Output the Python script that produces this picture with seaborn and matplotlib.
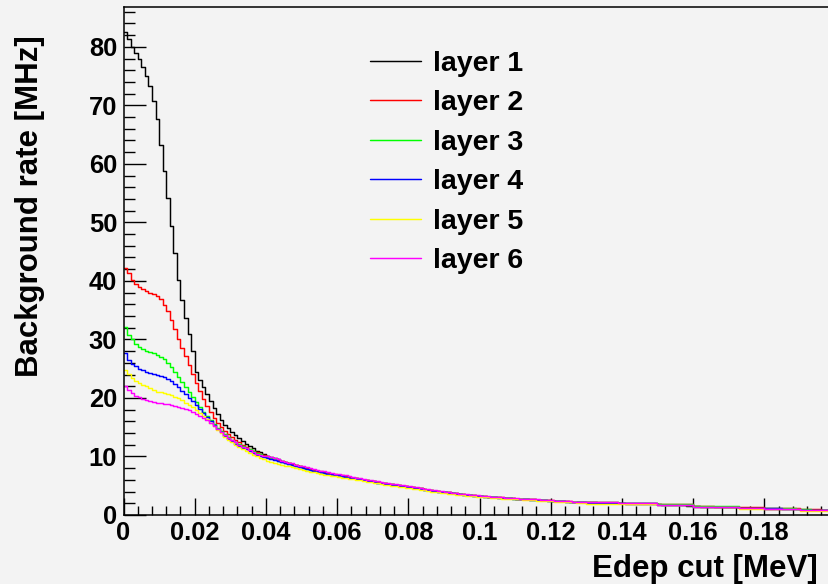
import numpy as np
import pandas as pd
import matplotlib
matplotlib.use("Agg")
import matplotlib.pyplot as plt
from matplotlib.ticker import MultipleLocator, FuncFormatter
import seaborn as sns

# 200 bins of 1 keV width from 0 to 0.2 MeV
bin_edges = [round(0.001 * i, 4) for i in range(201)]

layer_names = ["layer 1", "layer 2", "layer 3", "layer 4", "layer 5", "layer 6"]

# background rate [MHz] above each Edep cut, one value per bin
layer1 = [
    82.5, 81.3, 80.0, 79.0, 77.9, 76.6, 75.0, 73.3, 70.8, 67.6,
    63.2, 58.7, 54.1, 49.4, 44.8, 40.2, 36.8, 33.7, 31.0, 28.0,
    24.5, 23.1, 21.9, 20.6, 19.4, 18.3, 17.2, 16.3, 15.4, 14.8,
    14.2, 13.6, 13.1, 12.6, 12.2, 11.8, 11.4, 11.0, 10.7, 10.4,
    10.1, 9.9, 9.7, 9.5, 9.3, 9.1, 8.9, 8.7, 8.5, 8.3,
    8.15, 8.0, 7.85, 7.7, 7.55, 7.4, 7.3, 7.15, 7.0, 6.9,
    6.8, 6.7, 6.6, 6.5, 6.4, 6.3, 6.15, 6.05, 5.95, 5.85,
    5.75, 5.65, 5.55, 5.45, 5.35, 5.25, 5.15, 5.05, 4.95, 4.9,
    4.8, 4.75, 4.65, 4.55, 4.45, 4.35, 4.25, 4.15, 4.05, 4.0,
    3.9, 3.85, 3.75, 3.7, 3.6, 3.55, 3.5, 3.45, 3.35, 3.3,
    3.25, 3.2, 3.15, 3.1, 3.05, 3.0, 2.95, 2.9, 2.9, 2.85,
    2.8, 2.75, 2.75, 2.7, 2.65, 2.65, 2.6, 2.55, 2.55, 2.5,
    2.45, 2.45, 2.4, 2.4, 2.35, 2.3, 2.3, 2.25, 2.25, 2.2,
    2.15, 2.15, 2.15, 2.1, 2.1, 2.1, 2.05, 2.05, 2.05, 2.0,
    2.0, 1.95, 1.95, 1.95, 1.9, 1.9, 1.9, 1.85, 1.85, 1.85,
    1.8, 1.75, 1.75, 1.7, 1.7, 1.7, 1.65, 1.65, 1.6, 1.6,
    1.5, 1.5, 1.45, 1.45, 1.4, 1.4, 1.4, 1.35, 1.35, 1.35,
    1.3, 1.3, 1.3, 1.2, 1.2, 1.2, 1.2, 1.15, 1.15, 1.15,
    1.1, 1.1, 1.05, 1.05, 1.05, 1.0, 1.0, 1.0, 0.95, 0.95,
    0.9, 0.9, 0.9, 0.9, 0.88, 0.88, 0.86, 0.86, 0.85, 0.85,
]

layer2 = [
    42.2, 41.3, 40.2, 39.5, 39.0, 38.6, 38.3, 38.0, 37.8, 37.5,
    36.9, 35.9, 34.8, 33.3, 31.7, 30.1, 28.6, 27.1, 25.6, 24.1,
    22.6, 21.2, 19.9, 18.7, 17.6, 16.6, 15.8, 15.0, 14.4, 13.8,
    13.3, 12.8, 12.4, 12.0, 11.6, 11.3, 11.0, 10.7, 10.4, 10.2,
    10.0, 9.8, 9.6, 9.4, 9.2, 9.0, 8.8, 8.65, 8.5, 8.3,
    8.15, 8.0, 7.85, 7.7, 7.55, 7.45, 7.3, 7.2, 7.05, 6.95,
    6.85, 6.75, 6.65, 6.5, 6.4, 6.3, 6.2, 6.05, 5.95, 5.85,
    5.75, 5.65, 5.55, 5.45, 5.35, 5.25, 5.15, 5.05, 5.0, 4.9,
    4.8, 4.7, 4.6, 4.55, 4.45, 4.35, 4.25, 4.15, 4.05, 4.0,
    3.9, 3.85, 3.75, 3.7, 3.6, 3.55, 3.5, 3.4, 3.35, 3.3,
    3.25, 3.2, 3.15, 3.1, 3.05, 3.0, 3.0, 2.95, 2.9, 2.85,
    2.8, 2.8, 2.75, 2.7, 2.7, 2.65, 2.6, 2.6, 2.55, 2.5,
    2.5, 2.45, 2.4, 2.4, 2.35, 2.35, 2.3, 2.3, 2.25, 2.25,
    2.2, 2.2, 2.2, 2.2, 2.2, 2.2, 2.2, 2.2, 2.2, 2.1,
    2.1, 2.1, 2.1, 2.1, 2.1, 2.1, 2.1, 2.1, 2.1, 2.1,
    1.8, 1.8, 1.8, 1.8, 1.8, 1.8, 1.8, 1.8, 1.8, 1.8,
    1.5, 1.5, 1.5, 1.5, 1.5, 1.5, 1.45, 1.45, 1.45, 1.45,
    1.4, 1.4, 1.4, 1.3, 1.3, 1.3, 1.3, 1.3, 1.3, 1.3,
    1.15, 1.15, 1.15, 1.15, 1.15, 1.15, 1.15, 1.15, 1.15, 1.15,
    0.95, 0.95, 0.95, 0.95, 0.95, 0.95, 0.9, 0.9, 0.9, 0.9,
]

layer3 = [
    32.2, 30.8, 30.0, 29.3, 28.7, 28.3, 28.0, 27.8, 27.6, 27.3,
    27.0, 26.6, 26.0, 25.3, 24.5, 23.6, 22.7, 21.9, 21.0, 20.1,
    19.3, 18.4, 17.6, 16.9, 16.2, 15.5, 14.9, 14.3, 13.8, 13.3,
    12.9, 12.5, 12.1, 11.8, 11.5, 11.2, 10.9, 10.6, 10.4, 10.1,
    9.9, 9.7, 9.5, 9.3, 9.1, 8.9, 8.7, 8.5, 8.35, 8.2,
    8.05, 7.9, 7.75, 7.6, 7.45, 7.3, 7.2, 7.05, 6.95, 6.85,
    6.75, 6.6, 6.5, 6.4, 6.3, 6.2, 6.1, 5.95, 5.85, 5.75,
    5.65, 5.55, 5.45, 5.35, 5.25, 5.15, 5.05, 4.95, 4.9, 4.8,
    4.7, 4.65, 4.55, 4.45, 4.35, 4.25, 4.15, 4.05, 4.0, 3.9,
    3.85, 3.75, 3.7, 3.6, 3.55, 3.45, 3.4, 3.35, 3.3, 3.25,
    3.2, 3.15, 3.1, 3.05, 3.0, 2.95, 2.9, 2.85, 2.85, 2.8,
    2.75, 2.75, 2.7, 2.65, 2.6, 2.6, 2.55, 2.55, 2.5, 2.45,
    2.45, 2.4, 2.4, 2.35, 2.3, 2.3, 2.25, 2.25, 2.2, 2.2,
    2.2, 2.2, 2.2, 2.2, 2.2, 2.2, 2.2, 2.2, 2.2, 2.1,
    2.05, 2.05, 2.05, 2.05, 2.05, 2.05, 2.05, 2.05, 2.05, 2.05,
    1.85, 1.85, 1.85, 1.85, 1.85, 1.85, 1.85, 1.85, 1.85, 1.85,
    1.5, 1.5, 1.5, 1.5, 1.5, 1.5, 1.5, 1.5, 1.5, 1.5,
    1.5, 1.5, 1.5, 1.25, 1.25, 1.25, 1.25, 1.25, 1.25, 1.25,
    1.2, 1.2, 1.2, 1.2, 1.2, 1.2, 1.15, 1.15, 1.15, 1.05,
    0.95, 0.95, 0.95, 0.9, 0.9, 0.9, 0.9, 0.88, 0.88, 0.88,
]

layer4 = [
    27.6, 26.5, 25.8, 25.4, 25.0, 24.7, 24.5, 24.3, 24.1, 23.9,
    23.7, 23.5, 23.3, 22.9, 22.4, 21.8, 21.2, 20.6, 20.0, 19.4,
    18.8, 18.1, 17.4, 16.7, 16.0, 15.3, 14.7, 14.1, 13.5, 13.0,
    12.6, 12.2, 11.8, 11.5, 11.2, 10.9, 10.6, 10.3, 10.1, 9.9,
    9.8, 9.6, 9.4, 9.2, 9.0, 8.85, 8.7, 8.5, 8.35, 8.2,
    8.05, 7.9, 7.75, 7.6, 7.45, 7.35, 7.2, 7.05, 6.95, 6.85,
    6.75, 6.65, 6.5, 6.4, 6.3, 6.2, 6.1, 6.0, 5.85, 5.75,
    5.65, 5.55, 5.45, 5.35, 5.25, 5.15, 5.05, 5.0, 4.9, 4.8,
    4.7, 4.65, 4.55, 4.45, 4.35, 4.25, 4.15, 4.05, 4.0, 3.9,
    3.85, 3.75, 3.7, 3.6, 3.55, 3.5, 3.4, 3.35, 3.3, 3.25,
    3.2, 3.15, 3.1, 3.05, 3.0, 2.95, 2.9, 2.9, 2.85, 2.8,
    2.75, 2.7, 2.7, 2.65, 2.6, 2.6, 2.55, 2.5, 2.5, 2.45,
    2.4, 2.4, 2.35, 2.35, 2.3, 2.3, 2.25, 2.2, 2.2, 2.2,
    2.1, 2.1, 2.1, 2.1, 2.1, 2.1, 2.1, 2.1, 2.1, 2.0,
    2.0, 2.0, 2.0, 2.0, 2.0, 2.0, 2.0, 2.0, 2.0, 2.0,
    1.75, 1.75, 1.75, 1.75, 1.75, 1.75, 1.75, 1.75, 1.75, 1.75,
    1.45, 1.45, 1.45, 1.45, 1.45, 1.45, 1.45, 1.45, 1.45, 1.45,
    1.45, 1.45, 1.45, 1.2, 1.2, 1.2, 1.2, 1.2, 1.2, 1.2,
    1.2, 1.2, 1.2, 1.2, 1.2, 1.1, 1.1, 1.1, 1.05, 1.05,
    0.92, 0.92, 0.92, 0.9, 0.9, 0.88, 0.88, 0.86, 0.86, 0.86,
]

layer5 = [
    24.8, 24.1, 23.4, 22.9, 22.5, 22.2, 22.0, 21.7, 21.4, 21.1,
    21.0, 20.9, 20.7, 20.5, 20.2, 20.0, 19.6, 19.2, 18.8, 18.4,
    18.0, 17.5, 17.0, 16.4, 15.8, 15.2, 14.6, 14.0, 13.4, 12.9,
    12.4, 12.0, 11.6, 11.2, 10.9, 10.6, 10.3, 10.0, 9.7, 9.5,
    9.3, 9.1, 8.9, 8.75, 8.6, 8.45, 8.3, 8.15, 8.0, 7.85,
    7.7, 7.55, 7.4, 7.3, 7.15, 7.0, 6.9, 6.8, 6.7, 6.6,
    6.5, 6.4, 6.3, 6.2, 6.1, 6.0, 5.9, 5.8, 5.7, 5.6,
    5.5, 5.4, 5.3, 5.2, 5.1, 5.0, 4.9, 4.8, 4.75, 4.65,
    4.55, 4.5, 4.4, 4.3, 4.2, 4.1, 4.0, 3.95, 3.85, 3.8,
    3.7, 3.65, 3.55, 3.5, 3.45, 3.35, 3.3, 3.25, 3.2, 3.15,
    3.1, 3.05, 3.0, 2.95, 2.9, 2.85, 2.8, 2.8, 2.75, 2.7,
    2.65, 2.65, 2.6, 2.55, 2.5, 2.5, 2.45, 2.45, 2.4, 2.35,
    2.35, 2.3, 2.3, 2.25, 2.2, 2.2, 2.15, 2.1, 2.1, 2.05,
    1.95, 1.95, 1.95, 1.95, 1.95, 1.95, 1.95, 1.95, 1.95, 1.9,
    1.85, 1.85, 1.85, 1.85, 1.85, 1.85, 1.85, 1.85, 1.85, 1.85,
    1.65, 1.65, 1.65, 1.65, 1.65, 1.65, 1.65, 1.65, 1.65, 1.65,
    1.35, 1.35, 1.35, 1.35, 1.35, 1.35, 1.35, 1.35, 1.35, 1.35,
    1.3, 1.3, 1.3, 1.1, 1.1, 1.1, 1.1, 1.1, 1.1, 1.1,
    1.05, 1.05, 1.05, 1.05, 1.05, 1.0, 1.0, 1.0, 0.95, 0.95,
    0.75, 0.75, 0.75, 0.75, 0.72, 0.72, 0.72, 0.7, 0.7, 0.7,
]

layer6 = [
    22.0, 21.3, 20.8, 20.4, 20.1, 19.9, 19.7, 19.5, 19.3, 19.2,
    19.1, 19.0, 18.9, 18.8, 18.7, 18.5, 18.3, 18.1, 17.9, 17.6,
    17.3, 17.0, 16.6, 16.2, 15.7, 15.2, 14.7, 14.2, 13.7, 13.2,
    12.8, 12.4, 12.0, 11.7, 11.4, 11.1, 10.8, 10.5, 10.3, 10.1,
    10.1, 9.9, 9.7, 9.5, 9.3, 9.1, 8.95, 8.8, 8.6, 8.45,
    8.3, 8.15, 8.0, 7.85, 7.7, 7.55, 7.45, 7.3, 7.2, 7.05,
    6.95, 6.85, 6.75, 6.65, 6.5, 6.4, 6.3, 6.2, 6.05, 5.95,
    5.85, 5.75, 5.65, 5.55, 5.45, 5.35, 5.25, 5.15, 5.05, 5.0,
    4.9, 4.8, 4.7, 4.6, 4.5, 4.4, 4.3, 4.2, 4.1, 4.05,
    3.95, 3.9, 3.8, 3.75, 3.65, 3.6, 3.55, 3.45, 3.4, 3.35,
    3.3, 3.25, 3.2, 3.15, 3.1, 3.05, 3.0, 2.95, 2.9, 2.9,
    2.85, 2.8, 2.75, 2.75, 2.7, 2.65, 2.65, 2.6, 2.55, 2.55,
    2.5, 2.45, 2.45, 2.4, 2.4, 2.35, 2.3, 2.3, 2.25, 2.25,
    2.15, 2.15, 2.15, 2.15, 2.15, 2.15, 2.15, 2.15, 2.15, 2.05,
    2.0, 2.0, 2.0, 2.0, 2.0, 2.0, 2.0, 2.0, 2.0, 2.0,
    1.7, 1.7, 1.7, 1.7, 1.7, 1.7, 1.7, 1.7, 1.7, 1.7,
    1.4, 1.4, 1.4, 1.4, 1.4, 1.4, 1.4, 1.4, 1.4, 1.4,
    1.35, 1.35, 1.35, 1.15, 1.15, 1.15, 1.15, 1.15, 1.15, 1.15,
    1.1, 1.1, 1.1, 1.1, 1.1, 1.05, 1.05, 1.05, 1.0, 1.0,
    0.88, 0.88, 0.88, 0.86, 0.86, 0.85, 0.85, 0.84, 0.84, 0.84,
]

layers = [layer1, layer2, layer3, layer4, layer5, layer6]
colors = ["#000000", "#ff0000", "#00ff00", "#0000ff", "#ffff00", "#ff00ff"]

x_ticks = [0.0, 0.02, 0.04, 0.06, 0.08, 0.1, 0.12, 0.14, 0.16, 0.18]
y_ticks = [0, 10, 20, 30, 40, 50, 60, 70, 80]

bg = "#f3f3f3"
W, H = 829, 584

sns.set_theme(style="ticks")
plt.rcParams["font.family"] = ["Liberation Sans", "DejaVu Sans"]
plt.rcParams["font.weight"] = "bold"
plt.rcParams["axes.labelweight"] = "bold"
plt.rcParams["text.color"] = "#000000"
plt.rcParams["axes.labelcolor"] = "#000000"
plt.rcParams["xtick.color"] = "#000000"
plt.rcParams["ytick.color"] = "#000000"

fig = plt.figure(figsize=(W / 100, H / 100), dpi=100, facecolor=bg)
# frame: x from 123.5 px to 835.5 px (runs past the right edge), y from 7 px to 515 px
ax = fig.add_axes([123.5 / W, (H - 515) / H, 712 / W, 508 / H])
ax.set_facecolor(bg)

centers = [round(0.001 * i + 0.0005, 5) for i in range(200)]
for name, vals, col in zip(layer_names, layers, colors):
    df = pd.DataFrame({"edep": centers, "rate": vals})
    sns.histplot(data=df, x="edep", weights="rate", bins=bin_edges,
                 element="step", fill=False, color=col, linewidth=1.05,
                 label=name, ax=ax)

ax.set_xlim(0, 0.2)
ax.set_ylim(0, 86.8)

for side in ["left", "bottom", "top"]:
    ax.spines[side].set_color("#000000")
    ax.spines[side].set_linewidth(1.1)
ax.spines["right"].set_visible(False)

ax.set_xticks(x_ticks)
ax.set_yticks(y_ticks)
ax.xaxis.set_minor_locator(MultipleLocator(0.004))
ax.yaxis.set_minor_locator(MultipleLocator(2))
ax.xaxis.set_major_formatter(FuncFormatter(lambda v, p: "%g" % round(v, 4)))
ax.yaxis.set_major_formatter(FuncFormatter(lambda v, p: "%g" % v))

ax.tick_params(axis="x", which="major", direction="in", length=12, width=1.0,
               color="#000000", labelcolor="#000000", labelsize=18.4, pad=4.3, top=False)
ax.tick_params(axis="x", which="minor", direction="in", length=6.3, width=1.0,
               color="#000000", top=False)
ax.tick_params(axis="y", which="major", direction="in", length=16, width=1.0,
               color="#000000", labelcolor="#000000", labelsize=18.4, pad=4.5, right=False)
ax.tick_params(axis="y", which="minor", direction="in", length=8, width=1.0,
               color="#000000", right=False)
for lab in ax.get_xticklabels() + ax.get_yticklabels():
    lab.set_fontweight("bold")

ax.set_xlabel("Edep cut [MeV]", fontsize=22.5, fontweight="bold", color="#000000",
              ha="right", va="center")
ax.xaxis.set_label_coords((818 - 123.5) / 712, (515 - 569) / 508)
ax.set_ylabel("Background rate [MHz]", fontsize=22.5, fontweight="bold", color="#000000",
              ha="right", va="center")
ax.yaxis.set_label_coords((30 - 123.5) / 712, (515 - 35) / 508)

leg = ax.legend(loc="upper left", frameon=False, fontsize=20.5,
                bbox_to_anchor=(370 / W, 1 - 51 / H), bbox_transform=fig.transFigure,
                borderpad=0, borderaxespad=0, handlelength=1.8, handletextpad=0.42,
                labelspacing=0.47)
for t in leg.get_texts():
    t.set_fontweight("bold")
    t.set_color("#000000")

fig.savefig("out.png", dpi=100, facecolor=bg)
